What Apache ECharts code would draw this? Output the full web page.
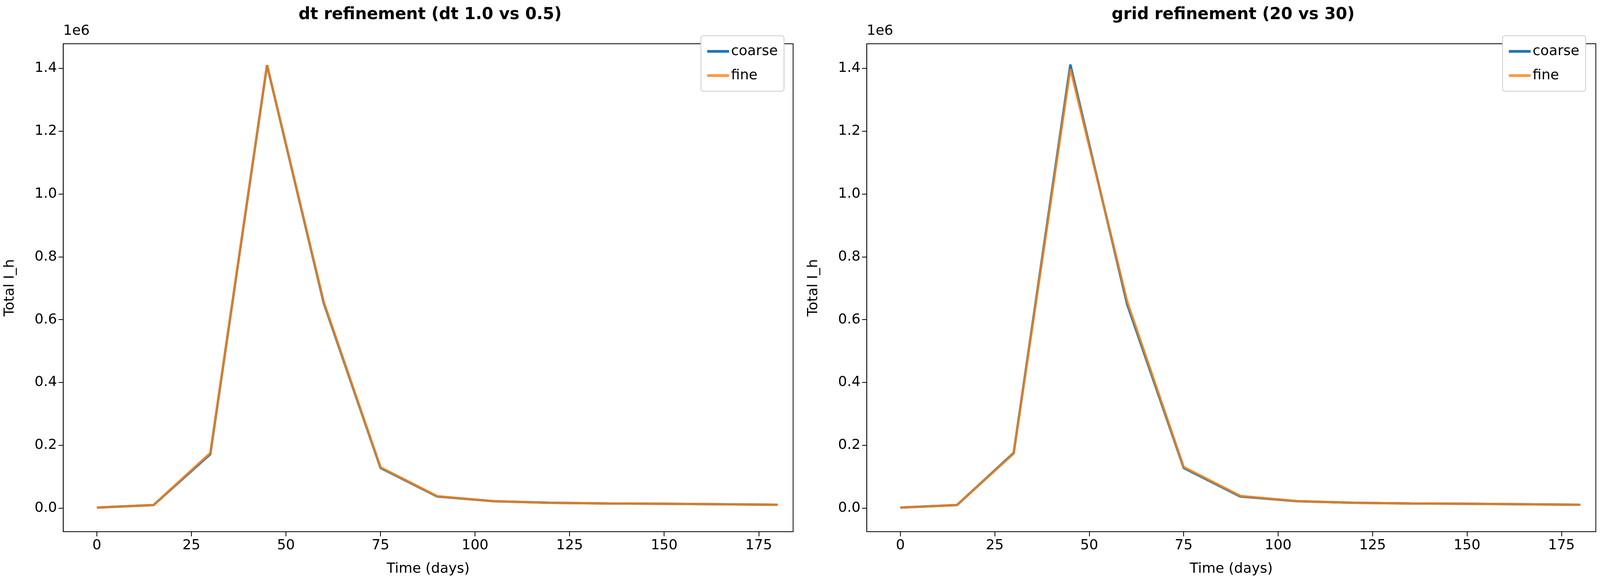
<!DOCTYPE html>
<html>
<head>
<meta charset="utf-8">
<script src="https://cdn.jsdelivr.net/npm/echarts@6/dist/echarts.min.js"></script>
<style>html,body{margin:0;padding:0;background:#fff;overflow:hidden}#chart-container{width:100vw;height:100vh}</style>
</head>
<body>
<div id="chart-container"></div>
<script>
var dom = document.getElementById('chart-container');
var myChart = echarts.init(dom, null, { renderer: 'canvas' });

// time points (days)
var days = [0, 15, 30, 45, 60, 75, 90, 105, 120, 135, 150, 165, 180];
// dt refinement
var dtCoarse = [2000, 10000, 172000, 1410000, 652000, 128000, 37000, 22000, 17000, 15000, 14000, 12500, 11000];
var dtFine   = [2000, 10000, 176000, 1410000, 656000, 130000, 38000, 22000, 17000, 15000, 14000, 12500, 11000];
// grid refinement
var gridCoarse = [2000, 10000, 176000, 1412000, 650000, 128000, 37000, 22000, 17000, 15000, 14000, 12500, 11000];
var gridFine   = [2000, 10000, 174000, 1398000, 660000, 131000, 39000, 22500, 17000, 15000, 14000, 12500, 11000];
var xTicks = [0, 25, 50, 75, 100, 125, 150, 175];
var yTicks = [0, 200000, 400000, 600000, 800000, 1000000, 1200000, 1400000];
var titles = ['dt refinement (dt 1.0 vs 0.5)', 'grid refinement (20 vs 30)'];

var font = 'DejaVu Sans';
var grids = [
  { left: '3.95%', width: '45.62%', top: '7.47%', height: '83.27%', mid: '26.76%' },
  { left: '54.17%', width: '45.57%', top: '7.47%', height: '83.27%', mid: '76.95%' }
];

function pairs(ys) { return days.map(function (d, i) { return [d, ys[i]]; }); }

function xAxis(i) {
  return {
    type: 'value', gridIndex: i, min: -8.9, max: 184.1,
    name: 'Time (days)', nameLocation: 'middle', nameGap: 78,
    nameTextStyle: { fontFamily: font, fontSize: 36, color: '#000' },
    axisLine: { show: true, onZero: false, lineStyle: { color: '#000', width: 2 } },
    axisTick: { show: true, length: 12, lineStyle: { color: '#000', width: 2 }, customValues: xTicks },
    axisLabel: { fontFamily: font, fontSize: 36, color: '#000', margin: 18, customValues: xTicks },
    splitLine: { show: false }
  };
}
function yAxis(i) {
  return {
    type: 'value', gridIndex: i, min: -75000, max: 1478000,
    name: 'Total I_h', nameLocation: 'middle', nameGap: 118,
    nameTextStyle: { fontFamily: font, fontSize: 36, color: '#000' },
    axisLine: { show: true, onZero: false, lineStyle: { color: '#000', width: 2 } },
    axisTick: { show: true, length: 12, lineStyle: { color: '#000', width: 2 }, customValues: yTicks },
    axisLabel: { fontFamily: font, fontSize: 36, color: '#000', margin: 16, customValues: yTicks,
      formatter: function (v) { return (v / 1e6).toFixed(1); } },
    splitLine: { show: false }
  };
}
function line(name, i, ys, color, op) {
  return {
    type: 'line', name: name, xAxisIndex: i, yAxisIndex: i, data: pairs(ys),
    showSymbol: false, symbol: 'none', z: name === 'fine' ? 3 : 2,
    lineStyle: { color: color, width: 6, opacity: op }, itemStyle: { color: color, opacity: op }
  };
}
function legend(right) {
  return {
    right: right, top: '6.1%', orient: 'vertical', icon: 'rect', itemWidth: 56, itemHeight: 7, itemGap: 26,
    padding: [22, 16, 22, 16], borderColor: '#ccc', borderWidth: 2, borderRadius: 6, backgroundColor: '#fff',
    textStyle: { fontFamily: font, fontSize: 36, color: '#000' }, data: ['coarse', 'fine']
  };
}

var option = {
  animation: false,
  title: titles.map(function (t, i) {
    return { text: t, left: grids[i].mid, top: 12, textAlign: 'center',
      textStyle: { fontFamily: font, fontSize: 42, fontWeight: 'bold', color: '#000' } };
  }),
  legend: [legend('51%'), legend('0.9%')],
  grid: grids.map(function (g) {
    return { show: true, borderColor: '#000', borderWidth: 2, backgroundColor: 'transparent',
      left: g.left, width: g.width, top: g.top, height: g.height };
  }),
  xAxis: [xAxis(0), xAxis(1)],
  yAxis: [yAxis(0), yAxis(1)],
  graphic: grids.map(function (g) {
    return { type: 'text', left: g.left, top: 62, style: { text: '1e6', font: '36px "DejaVu Sans"', fill: '#000' } };
  }),
  series: [
    line('coarse', 0, dtCoarse, '#1f77b4', 1),
    line('fine', 0, dtFine, '#ff7f0e', 0.8),
    line('coarse', 1, gridCoarse, '#1f77b4', 1),
    line('fine', 1, gridFine, '#ff7f0e', 0.8)
  ]
};

myChart.setOption(option);
window.addEventListener('resize', myChart.resize);
</script>
</body>
</html>
